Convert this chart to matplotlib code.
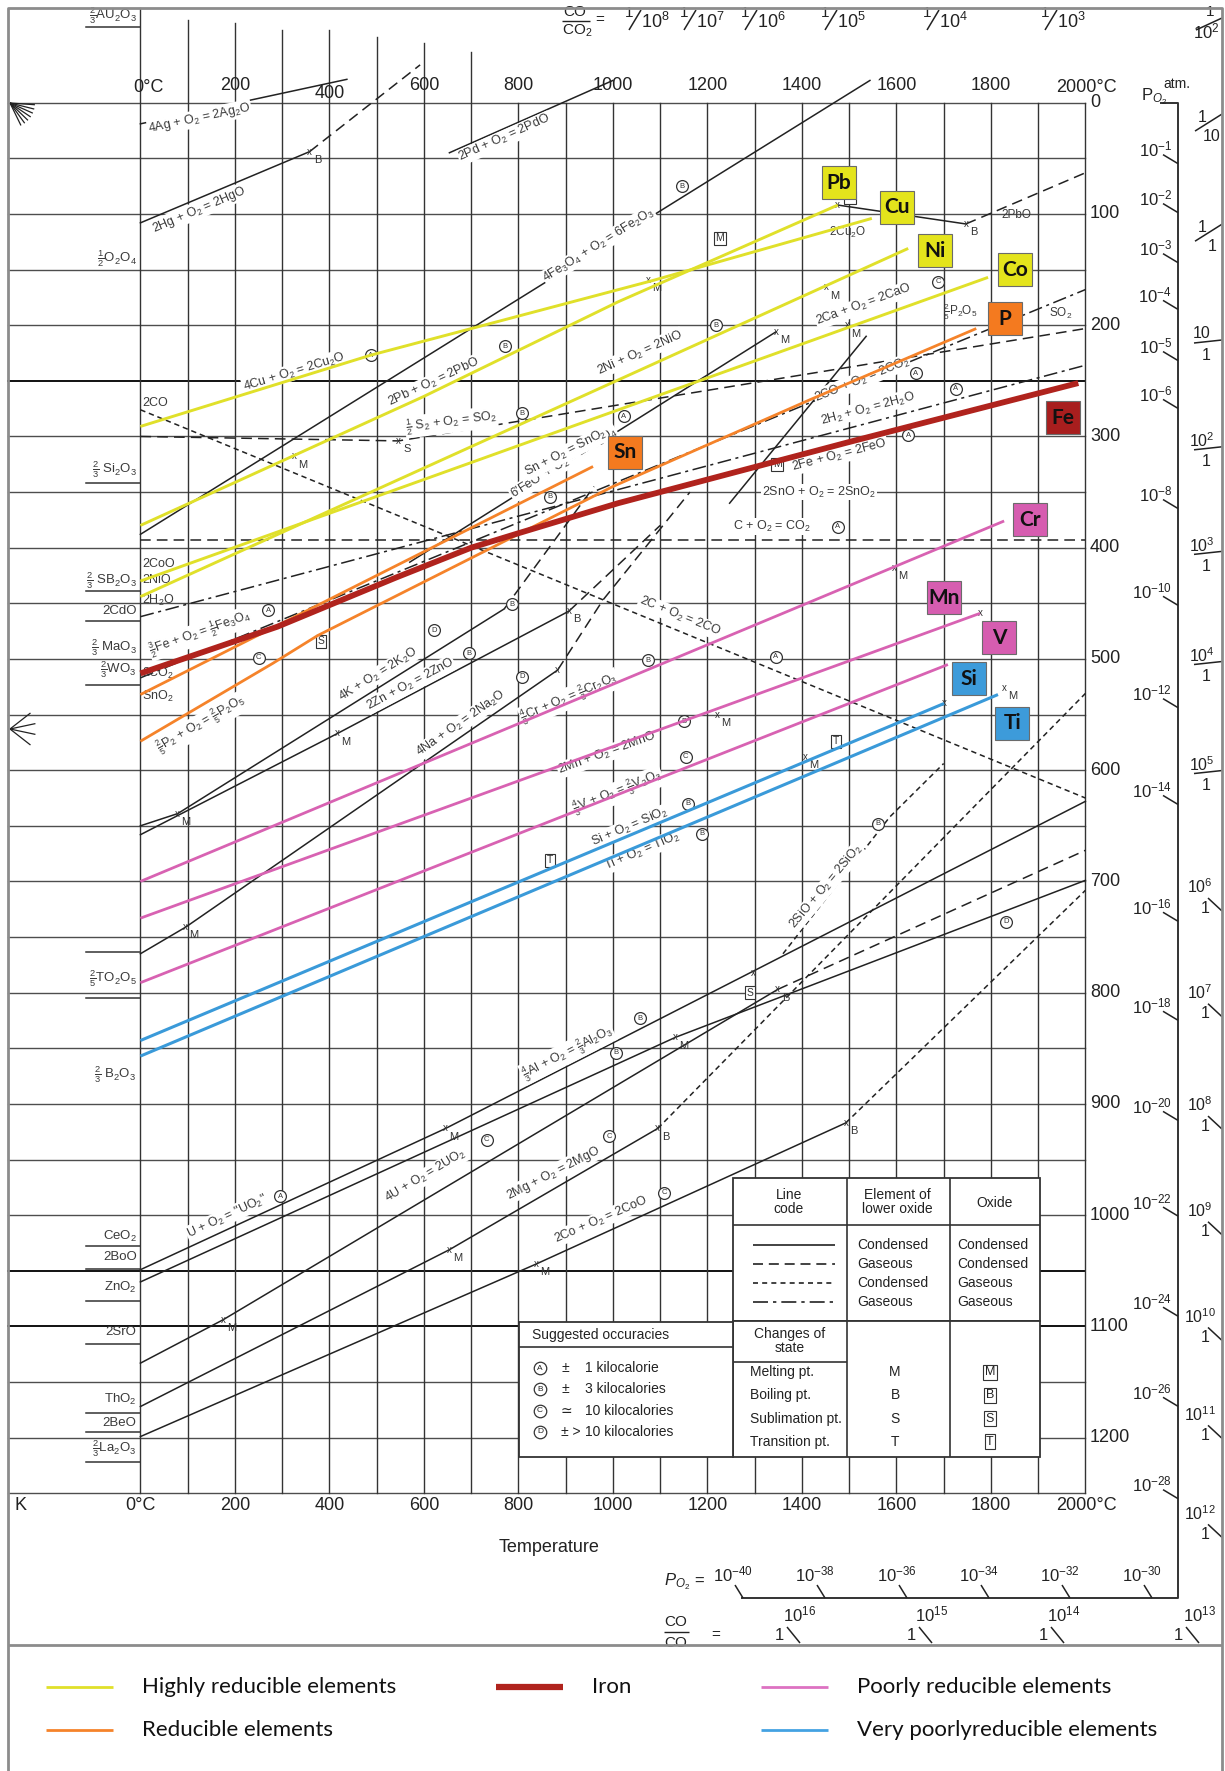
import numpy as np
import matplotlib
matplotlib.use("Agg")
import matplotlib.pyplot as plt
from matplotlib.patches import Rectangle

plt.rcParams["font.family"] = ["Liberation Sans", "DejaVu Sans"]
plt.rcParams["mathtext.fontset"] = "custom"
plt.rcParams["mathtext.rm"] = "Liberation Sans"
plt.rcParams["mathtext.it"] = "Liberation Sans:italic"
plt.rcParams["mathtext.bf"] = "Liberation Sans:bold"
plt.rcParams["mathtext.sf"] = "Liberation Sans"

# page geometry: pixel of 0 degC / 0 kJ and pixels per unit on each axis
W, H = 1225, 1771
X0, SX = 140.4, 0.4725
Y0, SY = 102.7, 1.1125

# ---------------- highlighted reactions (degC, -dG in kJ per mol O2)
cu_T, cu_G = [0, 487, 1083, 1548], [291, 227, 160, 104]
pb_T, pb_G = [0, 600, 1011, 1476], [380, 264, 179, 92]
ni_T, ni_G = [0, 1625], [444, 131]
co_T, co_G = [0, 1794], [430, 157]
sn_T, sn_G = [0, 958], [532, 327]
p_T, p_G = [0, 280, 375, 1000, 1417, 1769], [574, 504, 479, 345, 267, 203]
fe_T = [0, 290, 540, 700, 800, 1011, 1500, 1985]
fe_G = [513, 471, 427, 400, 387, 360, 305, 252]
cr_T, cr_G = [0, 1828], [700, 376]
mn_T, mn_G = [0, 1777], [733, 459]
v_T, v_G = [0, 1709], [791, 505]
si_T, si_G = [0, 1701], [843, 540]
ti_T, ti_G = [0, 1815], [857, 532]

# ---------------- the other reactions (black)
ag_T, ag_G = [0, 437], [19, -21]
hg_T, hg_G = [0, 358], [108, 44]
hg_gas_T, hg_gas_G = [358, 592], [44, -34]
pd_T, pd_G = [654, 1000], [45, -20]
fe2o3_T, fe2o3_G = [0, 1544], [388, -20]
fe3o4_T, fe3o4_G = [570, 1345], [413, 206]
pbo_T, pbo_G = [1476, 1747], [92, 109]
pbo_gas_T, pbo_gas_G = [1747, 2000], [109, 63]
c_co_T, c_co_G = [0, 2000], [276, 625]
c_co2_T, c_co2_G = [0, 2000], [393, 393]
so2_T, so2_G = [0, 546, 2000], [300, 304, 203]
co_co2_T, co_co2_G = [0, 2000], [517, 168]
h2o_T, h2o_G = [0, 2000], [462, 236]
k_T, k_G = [0, 79, 770], [650, 639, 455]
k_gas_T, k_gas_G = [770, 960], [455, 345]
zn_T, zn_G = [0, 417, 907], [658, 567, 457]
zn_gas_T, zn_gas_G = [907, 1100], [457, 380]
na_T, na_G = [0, 96, 883], [765, 741, 510]
na_gas_T, na_gas_G = [883, 979, 1163], [510, 447, 350]
cav_T, cav_G = [1247, 1536], [360, 210]
al_T, al_G = [0, 646, 2000], [1049, 922, 628]
u_T, u_G = [0, 1133, 2000], [1060, 840, 699]
li_T, li_G = [0, 175, 1349], [1133, 1094, 797]
li_gas_T, li_gas_G = [1349, 2000], [797, 672]
mg_T, mg_G = [0, 654, 1095], [1172, 1031, 922]
mg_gas_T, mg_gas_G = [1095, 2000], [922, 531]
ca_T, ca_G = [0, 837, 1493], [1199, 1044, 917]
ca_gas_T, ca_gas_G = [1493, 2000], [917, 708]
sio_T, sio_G = [1360, 1586, 1700], [765, 642, 594]

# reaction labels
lab_text = [
    r"4Ag + O$_2$ = 2Ag$_2$O", r"2Hg + O$_2$ = 2HgO", r"2Pd + O$_2$ = 2PdO",
    r"4Fe$_3$O$_4$ + O$_2$ = 6Fe$_2$O$_3$", r"4Cu + O$_2$ = 2Cu$_2$O", r"2Pb + O$_2$ = 2PbO",
    r"$\frac{1}{2}$ S$_2$ + O$_2$ = SO$_2$", r"2C + O$_2$ = 2CO", r"C + O$_2$ = CO$_2$",
    r"2SnO + O$_2$ = 2SnO$_2$", r"2Fe + O$_2$ = 2FeO",
    r"$\frac{3}{2}$Fe + O$_2$ = $\frac{1}{2}$Fe$_3$O$_4$",
    r"6'FeO' + O$_2$ = 2Fe$_3$O$_4$", r"Sn + O$_2$ = SnO$_2$", r"2H$_2$ + O$_2$ = 2H$_2$O",
    r"2CO + O$_2$ = 2CO$_2$", r"2Ca + O$_2$ = 2CaO", r"2Ni + O$_2$ = 2NiO",
    r"$\frac{2}{5}$P$_2$ + O$_2$ = $\frac{2}{5}$P$_2$O$_5$", r"4K + O$_2$ = 2K$_2$O",
    r"2Zn + O$_2$ = 2ZnO", r"4Na + O$_2$ = 2Na$_2$O",
    r"$\frac{4}{3}$Cr + O$_2$ = $\frac{2}{3}$Cr$_2$O$_3$", r"2Mn + O$_2$ = 2MnO",
    r"$\frac{4}{3}$V + O$_2$ = $\frac{2}{3}$V$_2$O$_3$", r"Si + O$_2$ = SiO$_2$",
    r"Ti + O$_2$ = TiO$_2$", r"2SiO + O$_2$ = 2SiO$_2$",
    r"$\frac{4}{3}$Al + O$_2$ = $\frac{2}{3}$Al$_2$O$_3$", r'U + O$_2$ = "UO$_2$"',
    r"4U + O$_2$ = 2UO$_2$", r"2Mg + O$_2$ = 2MgO", r"2Co + O$_2$ = 2CoO",
]
lab_T = [125, 125, 771, 970, 325, 621, 658, 1141, 1336, 1436, 1480, 127, 896, 900,
         1540, 1527, 1531, 1057, 129, 504, 571, 679, 908, 988, 1010, 1036, 1061,
         1451, 904, 183, 604, 875, 975]
lab_G = [14, 96, 32, 128, 242, 251, 287, 462, 381, 350, 317, 477, 324, 315, 275,
         249, 182, 225, 559, 514, 523, 558, 535, 585, 620, 651, 673, 705, 854,
         1001, 965, 962, 1004]
lab_rot = [12, 23, 24, 32, 17, 25, 7, -22, 0, 0, 14.5, 19.5, 32, 27, 15, 22, 20,
           24, 30, 32, 28, 35, 23, 20, 21.5, 23, 23, 50, 27, 25, 31, 27, 23.5]

# short names written just right of the 0 degC line
stub_text = ["2CO", "2CoO", "2NiO", r"2H$_2$O", r"2CO$_2$", r"SnO$_2$"]
stub_G = [270, 415, 429, 447, 513, 534]
# small names near line ends
end_text = [r"2Cu$_2$O", "2PbO", r"$\frac{2}{5}$P$_2$O$_5$", r"SO$_2$"]
end_T = [1497, 1853, 1735, 1947]
end_G = [117, 101, 188, 189]

# oxide names left of the 0 degC line, with their underline level
ox_text = [r"$\frac{2}{3}$AU$_2$O$_3$", r"$\frac{1}{2}$O$_2$O$_4$", r"$\frac{2}{3}$ Si$_2$O$_3$",
           r"$\frac{2}{3}$ SB$_2$O$_3$", "2CdO", r"$\frac{2}{3}$ MaO$_3$", r"$\frac{2}{3}$WO$_3$",
           r"$\frac{2}{5}$TO$_2$O$_5$", r"$\frac{2}{3}$ B$_2$O$_3$", r"CeO$_2$", "2BoO",
           r"ZnO$_2$", "2SrO", r"ThO$_2$", "2BeO", r"$\frac{2}{3}$La$_2$O$_3$"]
ox_G = [-78, 140, 330, 430, 457, 490, 510, 787, 874, 1019, 1038, 1065, 1105, 1166, 1187, 1210]
ox_line_G = [-68, 342, 439, 466, 523, 763, 805, 1028, 1048, 1077, 1116, 1178, 1195, 1222]

# accuracy circles, state-change boxes and crosses
circ_T = [487, 771, 808, 1146, 1688, 1218, 1641, 1726, 1625, 1023, 271, 250, 867,
          787, 621, 696, 808, 1476, 1074, 1345, 1150, 1154, 1158, 1188, 1561, 296,
          733, 992, 1057, 1006, 1108, 1832]
circ_G = [227, 219, 279, 75, 161, 200, 243, 257, 299, 282, 456, 499, 354, 451, 474,
          495, 516, 381, 501, 498, 556, 588, 630, 657, 648, 983, 932, 929, 823, 854,
          980, 736]
circ_L = ["A", "B", "B", "B", "C", "B", "A", "A", "A", "A", "A", "C", "B", "B", "D",
          "B", "D", "A", "B", "A", "B", "C", "B", "B", "B", "A", "C", "C", "B", "B",
          "C", "D"]
sq_T = [1226, 1348, 383, 1472, 867, 1290, 1502]
sq_G = [122, 325, 484, 574, 681, 800, 85]
sq_L = ["M", "M", "S", "T", "T", "S", "M"]
xm_T = [358, 325, 546, 1074, 1451, 1345, 1497, 1747, 1476, 417, 907, 883, 79, 96,
        1595, 1222, 1777, 1408, 1828, 1701, 646, 1133, 1349, 1095, 654, 175, 837,
        1493, 1298]
xm_G = [44, 318, 304, 159, 166, 206, 200, 109, 92, 567, 457, 510, 639, 741, 418,
        550, 459, 588, 526, 540, 922, 840, 797, 922, 1031, 1094, 1044, 917, 782]
xm_L = ["B", "M", "S", "M", "M", "M", "M", "B", "", "M", "B", "", "M", "M", "M",
        "M", "", "M", "M", "", "M", "M", "B", "B", "M", "M", "M", "B", ""]

# element tags
tag_name = ["Pb", "Cu", "Ni", "Co", "P", "Fe", "Sn", "Cr", "Mn", "V", "Si", "Ti"]
tag_T = [1478, 1601, 1682, 1851, 1830, 1953, 1025, 1883, 1700, 1817, 1754, 1845]
tag_G = [72, 94, 133, 150, 194, 283, 314, 375, 445, 481, 518, 558]
tag_grp = ["hi", "hi", "hi", "hi", "red", "fe", "red", "poor", "poor", "poor", "vpoor", "vpoor"]

# side scales
temp_ticks = list(range(0, 2001, 200))
kj_ticks = list(range(0, 1201, 100))
po2_exp = [1, 2, 3, 4, 5, 6, 8, 10, 12, 14, 16, 18, 20, 22, 24, 26, 28]
po2_G = [44, 88, 133, 175, 221, 264, 354, 441, 533, 620, 725, 814, 904, 990, 1080, 1161, 1244]
po2_low_exp = [40, 38, 36, 34, 32, 30]
h2_num = ["1", "1", "10"] + [r"10$^{%d}$" % k for k in range(2, 13)]
h2_den = ["10", "1", "1"] + ["1"] * 11
h2_G = [21, 120, 216, 312, 406, 505, 603, 714, 809, 910, 1005, 1100, 1188, 1277]
co_hi_exp = [8, 7, 6, 5, 4, 3, 2]
co_lo_exp = [16, 15, 14, 13]

YEL, ORA, FER, PNK, BLU = "#E0E02A", "#F5832A", "#B0231D", "#D862B2", "#3A9AD9"
TAGC = {"hi": "#E4E41C", "red": "#F47A1F", "fe": "#A81E1E", "poor": "#D65DB0", "vpoor": "#3D9BDA"}
INK = "#222222"
GRID = "#4d4d4d"


def tx(x):
    return (np.asarray(x, dtype=float) - X0) / SX


def gy(y):
    return (np.asarray(y, dtype=float) - Y0) / SY


fig = plt.figure(figsize=(W / 100, H / 100), dpi=100)
ax = fig.add_axes([0, 0, 1, 1])
ax.set_xlim(tx(0), tx(W))
ax.set_ylim(gy(H), gy(0))
ax.axis("off")


def pline(xs, ys, **kw):
    kw.setdefault("color", INK)
    kw.setdefault("lw", 1.2)
    ax.plot(tx(xs), gy(ys), solid_capstyle="butt", **kw)


def ptext(x, y, s, **kw):
    kw.setdefault("color", INK)
    ax.text(float(tx(x)), float(gy(y)), s, **kw)


# ---------------- page frame
pline([8, 8, 1222, 1222], [1771, 8, 8, 1771], color="#8c8c8c", lw=2.0, zorder=8)
pline([8, 1222], [1645, 1645], color="#8c8c8c", lw=2.0, zorder=8)

# ---------------- grid
left_T = float(tx(8))
for g in range(0, 1251, 50):
    dark = g in (250, 1050, 1100)
    ax.plot([left_T, 2000], [g, g], color="#111111" if dark else GRID,
            lw=1.4 if dark else 1.0, zorder=1)
grid_top = {0: float(gy(8)), 100: -74, 200: -72, 300: -65, 400: -65, 500: -59, 600: -54, 700: -46}
for t in range(0, 2001, 100):
    ax.plot([t, t], [grid_top.get(t, 0), 1250], color="#333333", lw=1.0, zorder=1)

# ---------------- black reactions
solid = dict(color=INK, lw=1.1, zorder=2)
for T, G in [(ag_T, ag_G), (hg_T, hg_G), (pd_T, pd_G), (fe2o3_T, fe2o3_G),
             (fe3o4_T, fe3o4_G), (pbo_T, pbo_G), (k_T, k_G), (zn_T, zn_G),
             (na_T, na_G), (cav_T, cav_G), (al_T, al_G), (u_T, u_G), (li_T, li_G),
             (mg_T, mg_G), (ca_T, ca_G)]:
    ax.plot(T, G, **solid)
long_dash = (0, (7, 4))
short_dash = (0, (3.5, 2.5))
dash_dot = (0, (9, 3, 2, 3))
for T, G, ls in [(hg_gas_T, hg_gas_G, long_dash), (pbo_gas_T, pbo_gas_G, long_dash),
                 (c_co_T, c_co_G, short_dash), (c_co2_T, c_co2_G, long_dash),
                 (so2_T, so2_G, long_dash), (co_co2_T, co_co2_G, dash_dot),
                 (h2o_T, h2o_G, dash_dot), (k_gas_T, k_gas_G, long_dash),
                 (zn_gas_T, zn_gas_G, long_dash), (na_gas_T, na_gas_G, long_dash),
                 (li_gas_T, li_gas_G, long_dash), (mg_gas_T, mg_gas_G, short_dash),
                 (ca_gas_T, ca_gas_G, short_dash), (sio_T, sio_G, short_dash)]:
    ax.plot(T, G, color=INK, lw=1.1, ls=ls, zorder=2)

# reaction labels interrupt the black lines
for s, t, g, r in zip(lab_text, lab_T, lab_G, lab_rot):
    ax.text(t, g, s, fontsize=9, color="#3a3a3a", rotation=r, ha="center",
            va="center", rotation_mode="anchor", zorder=3,
            bbox=dict(boxstyle="square,pad=0.06", fc="white", ec="none"))
for s, g in zip(stub_text, stub_G):
    ax.text(4, g, s, fontsize=9, color="#3a3a3a", ha="left", va="center", zorder=3)
for s, t, g in zip(end_text, end_T, end_G):
    ax.text(t, g, s, fontsize=8.5, color="#3a3a3a", ha="center", va="center", zorder=3)

# markers
for t, g, L in zip(circ_T, circ_G, circ_L):
    ax.plot(t, g, "o", ms=8.5, mfc="white", mec="#333333", mew=0.9, zorder=3)
    ax.text(t, g, L, fontsize=5.5, ha="center", va="center", color="#333333", zorder=3.1)
for t, g, L in zip(sq_T, sq_G, sq_L):
    ax.text(t, g, L, fontsize=7.5, ha="center", va="center", color="#333333", zorder=3,
            bbox=dict(boxstyle="square,pad=0.15", fc="white", ec="#333333", lw=0.8))
for t, g, L in zip(xm_T, xm_G, xm_L):
    ax.text(t, g, "x", fontsize=7, ha="center", va="center", color="#333333", zorder=3)
    if L:
        ax.annotate(L, (t, g), xytext=(6, -6), textcoords="offset points",
                    fontsize=8, ha="center", va="center", color="#333333", zorder=3)

# ---------------- coloured reactions
for T, G, c, w in [(cu_T, cu_G, YEL, 2.1), (pb_T, pb_G, YEL, 2.1), (ni_T, ni_G, YEL, 2.1),
                   (co_T, co_G, YEL, 2.1), (sn_T, sn_G, ORA, 2.0), (p_T, p_G, ORA, 2.0),
                   (cr_T, cr_G, PNK, 2.0), (mn_T, mn_G, PNK, 2.0), (v_T, v_G, PNK, 2.0),
                   (si_T, si_G, BLU, 2.2), (ti_T, ti_G, BLU, 2.2), (fe_T, fe_G, FER, 4.2)]:
    ax.plot(T, G, color=c, lw=w, solid_capstyle="butt", solid_joinstyle="round", zorder=4)

# ---------------- left-hand oxide names
for s, g in zip(ox_text, ox_G):
    ax.text(-8, g, s, fontsize=9.5, color="#3a3a3a", ha="right", va="center", zorder=3)
for g in ox_line_G:
    ax.plot([float(tx(86)), 0], [g, g], color="#333333", lw=1.1, zorder=2)

# fan marks on the left border
for a in np.radians([-4, -14, -24, -34, -44, -54, -64]):
    pline([10, 10 + 25 * np.cos(a)], [103, 103 - 25 * np.sin(a)], lw=0.9)
for a in np.radians([38, 12, -12, -38]):
    pline([10, 10 + 26 * np.cos(a)], [729, 729 - 26 * np.sin(a)], lw=0.9)

# ---------------- temperature labels (top and bottom)
for t in temp_ticks:
    s = "%d" % t
    if t in (0, 2000):
        ptext(float(X0 + SX * t) - (7 if t == 0 else 29), 87, s + "°C", fontsize=13, ha="left", va="center")
        ptext(float(X0 + SX * t) - (15 if t == 0 else 29), 1506, s + "°C", fontsize=13, ha="left", va="center")
    else:
        ax.text(t, float(gy(93 if t == 400 else 86)), s, fontsize=13, ha="center", va="center", color=INK)
        ax.text(t, float(gy(1506)), s, fontsize=13, ha="center", va="center", color=INK)
ptext(21, 1506, "K", fontsize=13, ha="center", va="center")
ptext(549, 1547, "Temperature", fontsize=13, ha="center", va="center")

# -dG labels on the right of the grid
for g in kj_ticks:
    ax.text(float(tx(1090)), g, "%d" % g, fontsize=13, ha="left", va="center", color=INK)

# ---------------- P_O2 scale
pline([1160, 1178, 1178, 741], [103, 103, 1598, 1598], lw=1.4, color="#333333")
ptext(1141, 97, r"P$_{O_2}$", fontsize=12, ha="left", va="center")
ptext(1163, 84, "atm.", fontsize=10, ha="left", va="center")
for e, g in zip(po2_exp, po2_G):
    y = float(Y0 + SY * g)
    ptext(1172, y - 2, r"10$^{-%d}$" % e, fontsize=12, ha="right", va="center")
    pline([1163, 1178], [y + 3, y + 12], lw=1.1)
po2_low_x = [733, 815, 897, 979, 1060, 1142]
ptext(684, 1582, r"$P_{O_2}$ =", fontsize=12, ha="center", va="center")
for e, x in zip(po2_low_exp, po2_low_x):
    ptext(x, 1574, r"10$^{-%d}$" % e, fontsize=12, ha="center", va="center")
    pline([x + 2, x + 10], [1585, 1598], lw=1.1)

# ---------------- H2/H2O ratio column
for k, (n, d, g) in enumerate(zip(h2_num, h2_den, h2_G)):
    y = float(Y0 + SY * g)
    if k < 2:
        ptext(1202, y - 9, n, fontsize=11.5, ha="center", va="center")
        ptext(1212, y + 10, d, fontsize=11.5, ha="center", va="center")
        pline([1195, 1222], [y + 5, y - 12], lw=1.1)
    elif k < 7:
        ptext(1202, y - 9, n, fontsize=11.5, ha="center", va="center")
        ptext(1206, y + 12, d, fontsize=11.5, ha="center", va="center")
        pline([1194, 1222], [y, y - 3], lw=1.1)
    else:
        ptext(1200, y - 10, n, fontsize=11.5, ha="center", va="center")
        ptext(1205, y + 11, d, fontsize=11.5, ha="center", va="center")
        pline([1208, 1222], [y + 1, y + 14], lw=1.1)

# ---------------- CO/CO2 ratio rows
ptext(575, 12, "CO", fontsize=11, ha="center", va="center")
pline([562, 590], [21, 21], lw=1.0)
ptext(577, 31, r"CO$_2$", fontsize=11, ha="center", va="center")
ptext(600, 20, "=", fontsize=11, ha="center", va="center")
co_hi_x = [643, 698, 759, 839, 941, 1059]
for e, x in zip(co_hi_exp[:-1], co_hi_x):
    ptext(x - 14, 13, "1", fontsize=11, ha="center", va="center")
    pline([x - 14, x - 2], [30, 10], lw=1.1)
    ptext(x + 12, 22, r"10$^{%d}$" % e, fontsize=13, ha="center", va="center")
ptext(1210, 12, "1", fontsize=11, ha="center", va="center")
pline([1196, 1222], [30, 18], lw=1.1)
ptext(1206, 31, r"10$^{2}$", fontsize=12, ha="center", va="center")

ptext(676, 1622, "CO", fontsize=11, ha="center", va="center")
pline([664, 689], [1632, 1632], lw=1.0)
ptext(676, 1643, "CO", fontsize=11, ha="center", va="center")
ptext(716, 1635, "=", fontsize=11, ha="center", va="center")
co_lo_x = [800, 932, 1064, 1199]
for e, x in zip(co_lo_exp, co_lo_x):
    ptext(x, 1614, r"10$^{%d}$" % e, fontsize=12, ha="center", va="center")
    ptext(x - 21, 1636, "1", fontsize=12, ha="center", va="center")
    pline([x - 13, x], [1627, 1643], lw=1.1)

# ---------------- element tags
bw, bh = 34 / SX, 33 / SY
for name, t, g, grp in zip(tag_name, tag_T, tag_G, tag_grp):
    ax.add_patch(Rectangle((t - bw / 2, g - bh / 2), bw, bh, fc=TAGC[grp], ec="#6b6b6b",
                           lw=0.8, zorder=6))
    ax.text(t, g, name, fontsize=15, fontweight="bold", family=["Lato", "DejaVu Sans"],
            ha="center", va="center", color="#111111", zorder=7)


# ---------------- key tables
def prect(x0, y0, x1, y1):
    ax.add_patch(Rectangle((float(tx(x0)), float(gy(y1))), float(tx(x1) - tx(x0)),
                           float(gy(y0) - gy(y1)), fc="white", ec="#333333", lw=1.3, zorder=5))


def tline(xs, ys):
    pline(xs, ys, color="#333333", lw=1.2, zorder=5.5)


def ttext(x, y, s, **kw):
    kw.setdefault("fontsize", 10)
    kw.setdefault("va", "center")
    ptext(x, y, s, zorder=5.6, **kw)


prect(733, 1178, 1040, 1321)
tline([847, 847], [1178, 1321])
tline([950, 950], [1178, 1321])
tline([733, 1040], [1225, 1225])
ttext(789, 1202, "Line\ncode", ha="center", linespacing=1.0)
ttext(897, 1202, "Element of\nlower oxide", ha="center", linespacing=1.0)
ttext(995, 1203, "Oxide", ha="center")
code_styles = ["-", (0, (6, 3.5)), (0, (3, 2.5)), (0, (9, 3, 2, 3))]
code_elem = ["Condensed", "Gaseous", "Condensed", "Gaseous"]
code_oxide = ["Condensed", "Condensed", "Gaseous", "Gaseous"]
for k, (ls, a, b) in enumerate(zip(code_styles, code_elem, code_oxide)):
    y = 1245 + 19 * k
    pline([753, 835], [y, y], ls=ls, lw=1.2, zorder=5.6)
    ttext(857, y, a, ha="left")
    ttext(957, y, b, ha="left")

prect(733, 1321, 1040, 1457)
tline([847, 847], [1321, 1457])
tline([950, 950], [1321, 1457])
tline([733, 847], [1362, 1362])
ttext(790, 1341, "Changes of\nstate", ha="center", linespacing=1.0)
state_name = ["Melting pt.", "Boiling pt.", "Sublimation pt.", "Transition pt."]
state_code = ["M", "B", "S", "T"]
for k, (a, b) in enumerate(zip(state_name, state_code)):
    y = 1372 + 23.3 * k
    ttext(750, y, a, ha="left")
    ttext(895, y, b, ha="center")
    ptext(990, y, b, fontsize=9, ha="center", va="center", zorder=5.6,
          bbox=dict(boxstyle="square,pad=0.12", fc="white", ec="#333333", lw=0.8))

prect(519, 1322, 733, 1457)
tline([519, 733], [1347, 1347])
ttext(532, 1335, "Suggested occuracies", ha="left")
acc_sign = ["±", "±", "≃", "± >"]
acc_text = ["1 kilocalorie", "3 kilocalories", "10 kilocalories", "10 kilocalories"]
for k, (L, sg, s) in enumerate(zip("ABCD", acc_sign, acc_text)):
    y = 1368 + 21.3 * k
    ax.plot(float(tx(540)), float(gy(y)), "o", ms=9, mfc="white", mec="#333333", mew=0.9, zorder=5.6)
    ttext(540, y, L, fontsize=6, ha="center")
    ttext(561, y, sg, ha="left")
    ttext(585, y, s, ha="left")

# ---------------- colour key under the diagram
key = [("Highly reducible elements", YEL, 2.0, 46, 1687),
       ("Reducible elements", ORA, 2.0, 46, 1730),
       ("Iron", FER, 4.5, 496, 1687),
       ("Poorly reducible elements", "#DD72C2", 2.0, 761, 1687),
       ("Very poorlyreducible elements", "#44A2E2", 2.0, 761, 1730)]
for s, c, w, x, y in key:
    pline([x, x + 67], [y, y], color=c, lw=w, zorder=5)
    ptext(x + 96, y, s, fontsize=16, family=["Lato", "DejaVu Sans"], ha="left",
          va="center", color="#111111")

fig.savefig("out.png", dpi=100)
